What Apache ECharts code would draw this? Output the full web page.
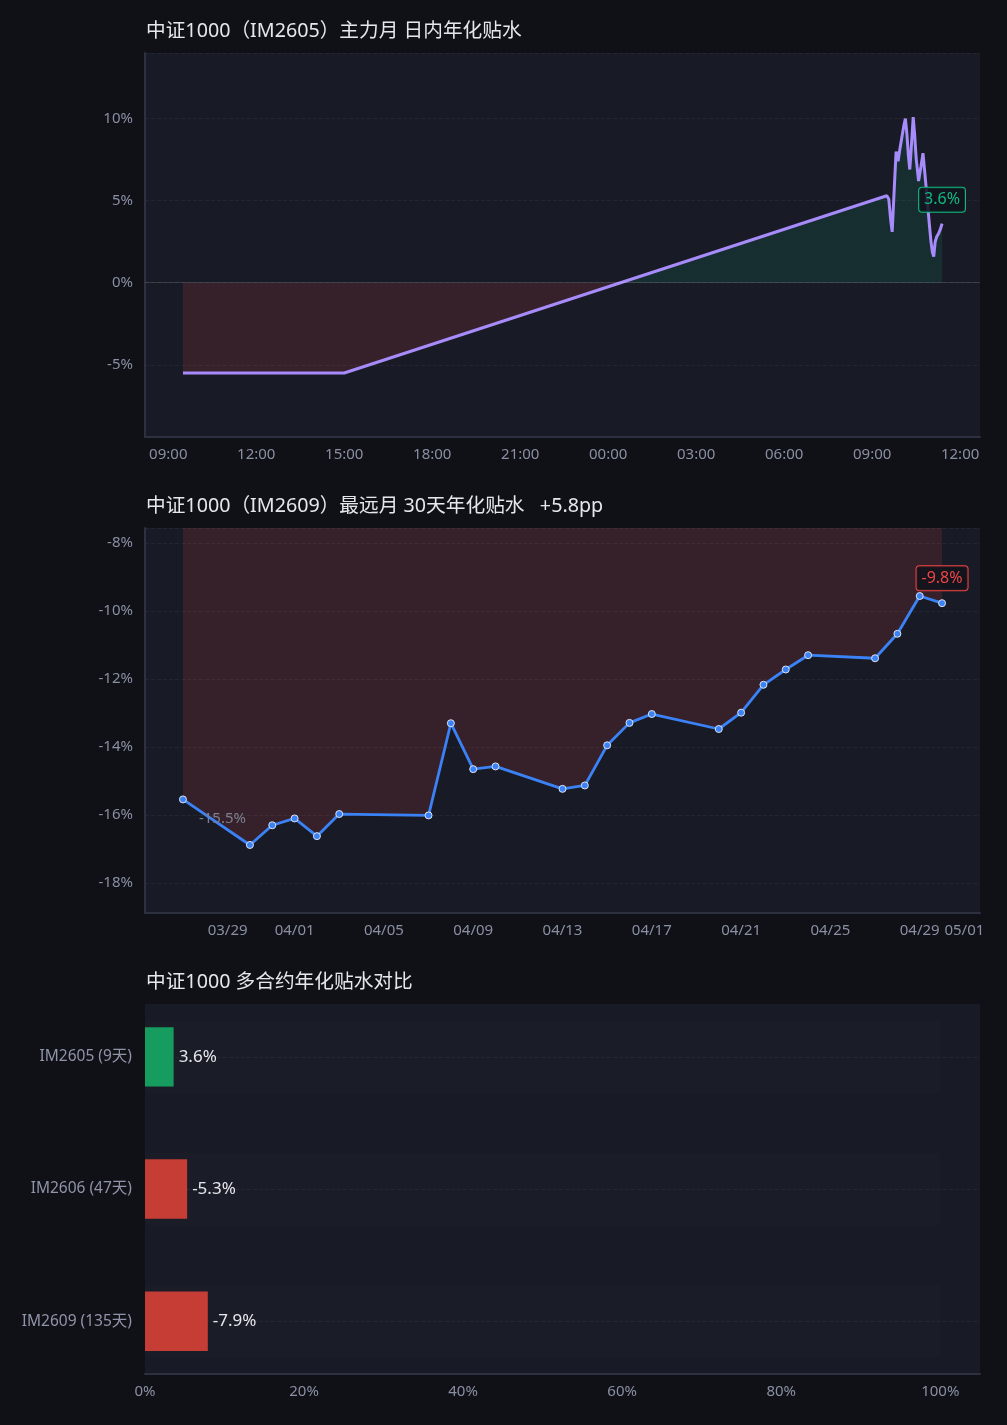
<!DOCTYPE html>
<html>
<head>
<meta charset="utf-8">
<script src="https://cdn.jsdelivr.net/npm/echarts@6/dist/echarts.min.js"></script>
<style>
html,body{margin:0;padding:0;background:#0f1117;}
#c{width:1007px;height:1425px;}
</style>
</head>
<body>
<div id="c"></div>
<script>
// ---------- Chart 1: IM2605 intraday annualized basis ----------
const intradayTimes = [
  '2026-04-29 09:30','2026-04-29 15:00',
  '2026-04-30 09:30','2026-04-30 09:34','2026-04-30 09:38','2026-04-30 09:41','2026-04-30 09:45',
  '2026-04-30 09:49','2026-04-30 09:53','2026-04-30 09:57','2026-04-30 10:01','2026-04-30 10:05',
  '2026-04-30 10:08','2026-04-30 10:11','2026-04-30 10:14','2026-04-30 10:17','2026-04-30 10:20',
  '2026-04-30 10:24','2026-04-30 10:27','2026-04-30 10:30','2026-04-30 10:35','2026-04-30 10:40',
  '2026-04-30 10:44','2026-04-30 10:48','2026-04-30 10:52','2026-04-30 10:56','2026-04-30 11:00',
  '2026-04-30 11:03','2026-04-30 11:06','2026-04-30 11:09','2026-04-30 11:12','2026-04-30 11:16',
  '2026-04-30 11:20','2026-04-30 11:23'
];
const intradayValues = [
  -5.5, -5.5,
  5.3, 5.1, 3.8, 3.1, 5.6,
  8.0, 7.4, 8.2, 8.9, 9.6,
  10.0, 9.1, 7.8, 6.9, 8.2,
  10.1, 9.0, 7.6, 6.2, 7.1,
  7.9, 6.6, 5.3, 3.9, 2.6,
  1.9, 1.6, 2.5, 2.8, 3.0,
  3.3, 3.6
];
const intradayTicks = [
  '2026-04-29 09:00','2026-04-29 12:00','2026-04-29 15:00','2026-04-29 18:00','2026-04-29 21:00',
  '2026-04-30 00:00','2026-04-30 03:00','2026-04-30 06:00','2026-04-30 09:00','2026-04-30 12:00'
];

// ---------- Chart 2: IM2609 30-day annualized basis ----------
const farDates = [
  '2026-03-27','2026-03-30','2026-03-31','2026-04-01','2026-04-02','2026-04-03',
  '2026-04-07','2026-04-08','2026-04-09','2026-04-10','2026-04-13','2026-04-14',
  '2026-04-15','2026-04-16','2026-04-17','2026-04-20','2026-04-21','2026-04-22',
  '2026-04-23','2026-04-24','2026-04-27','2026-04-28','2026-04-29','2026-04-30'
];
const farValues = [
  -15.54, -16.88, -16.30, -16.10, -16.62, -15.97,
  -16.01, -13.30, -14.65, -14.57, -15.23, -15.13,
  -13.95, -13.29, -13.03, -13.47, -12.99, -12.17,
  -11.72, -11.30, -11.39, -10.67, -9.56, -9.77
];
const farTicks = [
  '2026-03-29','2026-04-01','2026-04-05','2026-04-09','2026-04-13',
  '2026-04-17','2026-04-21','2026-04-25','2026-04-29','2026-05-01'
];

// ---------- Chart 3: contracts comparison ----------
const contracts = ['IM2605 (9天)', 'IM2606 (47天)', 'IM2609 (135天)'];
const contractValues = [3.6, -5.3, -7.9];
const pctTicks = [0, 20, 40, 60, 80, 100];
const trackValue = 100;

// ---------- helpers ----------
const FONT = '"Noto Sans", "Noto Sans CJK SC", sans-serif';
const BG = '#0f1117';
const GRID_BG = '#181b26';
const AXIS_LINE = '#2c3040';
const LABEL = '#8a8fa3';
const SPLIT = 'rgba(255,255,255,0.05)';
const RED = '#ef4444';
const GREEN = '#10b981';
const pad2 = n => (n < 10 ? '0' : '') + n;
const ts = s => new Date(s.length === 10 ? s + 'T00:00' : s.replace(' ', 'T')).getTime();
const xPadMin = v => v.min - 0.05 * (v.max - v.min);
const xPadMax = v => v.max + 0.05 * (v.max - v.min);
const yPad = v => Math.max((v.max - v.min) * 0.25, 2);
const yPadMin = v => v.min - yPad(v);
const yPadMax = v => v.max + yPad(v);

const intradayData = intradayTimes.map((t, i) => {
  const item = { value: [ts(t), intradayValues[i]] };
  if (i === intradayTimes.length - 1) {
    item.label = {
      show: true, position: 'top', distance: 12,
      formatter: intradayValues[i].toFixed(1) + '%',
      color: GREEN, fontSize: 16, fontFamily: FONT,
      borderColor: GREEN, borderWidth: 1, borderRadius: 3,
      padding: [4, 5], backgroundColor: 'rgba(17,19,27,0.85)'
    };
  }
  return item;
});

const farData = farDates.map((d, i) => {
  const item = { value: [ts(d), farValues[i]] };
  if (i === 0) {
    item.label = {
      show: true, position: 'right', offset: [7, 19],
      formatter: farValues[i].toFixed(1) + '%',
      color: '#7c8093', fontSize: 15, fontFamily: FONT
    };
  }
  if (i === farDates.length - 1) {
    item.label = {
      show: true, position: 'top', distance: 9,
      formatter: farValues[i].toFixed(1) + '%',
      color: RED, fontSize: 16, fontFamily: FONT,
      borderColor: RED, borderWidth: 1, borderRadius: 3,
      padding: [4, 5], backgroundColor: 'rgba(17,19,27,0.85)'
    };
  }
  return item;
});

const farDiff = farValues[farValues.length - 1] - farValues[0];
const farTitle = '中证1000（IM2609）最远月 30天年化贴水   ' + (farDiff >= 0 ? '+' : '') + farDiff.toFixed(1) + 'pp';

// zero split of intraday area fill
const iMax = Math.max(0, ...intradayValues), iMin = Math.min(0, ...intradayValues);
const zeroOff = iMax / (iMax - iMin);
const intradayArea = new echarts.graphic.LinearGradient(0, 0, 0, 1, [
  { offset: 0, color: 'rgba(16,185,129,0.12)' },
  { offset: zeroOff, color: 'rgba(16,185,129,0.12)' },
  { offset: zeroOff, color: 'rgba(239,68,68,0.14)' },
  { offset: 1, color: 'rgba(239,68,68,0.14)' }
]);

const hhmm = v => { const d = new Date(v); return pad2(d.getHours()) + ':' + pad2(d.getMinutes()); };
const mmdd = v => { const d = new Date(v); return pad2(d.getMonth() + 1) + '/' + pad2(d.getDate()); };

const axisLabelBase = { color: LABEL, fontSize: 15, fontFamily: FONT };
const gridBase = { left: 145, right: 27, show: true, backgroundColor: GRID_BG, borderWidth: 0 };
const titleStyle = { color: '#e5e7eb', fontSize: 19.7, fontWeight: 'normal', fontFamily: FONT };

const chart = echarts.init(document.getElementById('c'), null, { renderer: 'canvas' });
chart.setOption({
  backgroundColor: BG,
  animation: false,
  textStyle: { fontFamily: FONT },
  title: [
    { text: '中证1000（IM2605）主力月 日内年化贴水', left: 146, top: 22, padding: 0, textStyle: titleStyle },
    { text: farTitle, left: 146, top: 497, padding: 0, textStyle: titleStyle },
    { text: '中证1000 多合约年化贴水对比', left: 146, top: 973, padding: 0, textStyle: titleStyle }
  ],
  grid: [
    Object.assign({ top: 53, height: 384 }, gridBase),
    Object.assign({ top: 528, height: 385 }, gridBase),
    Object.assign({ top: 1004, height: 370 }, gridBase)
  ],
  xAxis: [
    {
      gridIndex: 0, type: 'value', min: xPadMin, max: xPadMax, scale: true,
      axisLine: { show: true, onZero: false, lineStyle: { color: AXIS_LINE, width: 2 } },
      axisTick: { show: false, customValues: intradayTicks.map(ts) },
      axisLabel: Object.assign({ customValues: intradayTicks.map(ts), formatter: hhmm, margin: 10 }, axisLabelBase),
      splitLine: { show: false }
    },
    {
      gridIndex: 1, type: 'value', min: xPadMin, max: xPadMax, scale: true,
      axisLine: { show: true, onZero: false, lineStyle: { color: AXIS_LINE, width: 2 } },
      axisTick: { show: false, customValues: farTicks.map(ts) },
      axisLabel: Object.assign({ customValues: farTicks.map(ts), formatter: mmdd, margin: 10 }, axisLabelBase),
      splitLine: { show: false }
    },
    {
      gridIndex: 2, type: 'value', min: 0, max: trackValue * 1.05,
      axisLine: { show: true, onZero: false, lineStyle: { color: AXIS_LINE, width: 2 } },
      axisTick: { show: false, customValues: pctTicks },
      axisLabel: Object.assign({ customValues: pctTicks, formatter: v => v + '%', margin: 10 }, axisLabelBase),
      splitLine: { show: false }
    }
  ],
  yAxis: [
    {
      gridIndex: 0, type: 'value', min: yPadMin, max: yPadMax,
      axisLine: { show: true, onZero: false, lineStyle: { color: AXIS_LINE, width: 2 } },
      axisTick: { show: false },
      axisLabel: Object.assign({ formatter: v => v + '%', showMinLabel: false, showMaxLabel: false, margin: 12 }, axisLabelBase),
      splitLine: { show: true, lineStyle: { color: SPLIT, type: 'dashed' } }
    },
    {
      gridIndex: 1, type: 'value', min: yPadMin, max: yPadMax,
      axisLine: { show: true, onZero: false, lineStyle: { color: AXIS_LINE, width: 2 } },
      axisTick: { show: false },
      axisLabel: Object.assign({ formatter: v => v + '%', showMinLabel: false, showMaxLabel: false, margin: 12 }, axisLabelBase),
      splitLine: { show: true, lineStyle: { color: SPLIT, type: 'dashed' } }
    },
    {
      gridIndex: 2, type: 'value', inverse: true, min: -0.4, max: contracts.length - 1 + 0.4,
      axisLine: { show: false, onZero: false },
      axisTick: { show: false, customValues: contracts.map((c, i) => i) },
      axisLabel: Object.assign({ customValues: contracts.map((c, i) => i), formatter: v => contracts[Math.round(v)] || '', margin: 13 }, axisLabelBase, { color: '#9094a8', fontSize: 15.5 }),
      splitLine: { show: true, lineStyle: { color: SPLIT, type: 'dashed' } }
    }
  ],
  series: [
    {
      type: 'line', xAxisIndex: 0, yAxisIndex: 0,
      data: intradayData,
      symbol: 'circle', symbolSize: 0, showSymbol: true,
      lineStyle: { color: '#a78bfa', width: 3 },
      itemStyle: { color: '#a78bfa' },
      areaStyle: { color: intradayArea, opacity: 1 },
      markLine: {
        silent: true, symbol: 'none', label: { show: false },
        lineStyle: { color: 'rgba(255,255,255,0.13)', type: 'solid', width: 1 },
        data: [{ yAxis: 0 }]
      },
      z: 3
    },
    {
      type: 'line', xAxisIndex: 1, yAxisIndex: 1,
      data: farData,
      symbol: 'circle', symbolSize: 7, showSymbol: true,
      lineStyle: { color: '#3b82f6', width: 2.8 },
      itemStyle: { color: '#3b82f6', borderColor: '#dde3f0', borderWidth: 1 },
      areaStyle: { color: 'rgba(239,68,68,0.14)', opacity: 1 },
      z: 3
    },
    {
      type: 'custom', xAxisIndex: 2, yAxisIndex: 2, silent: true,
      encode: { x: 0, y: 1 },
      data: contracts.map((c, i) => [trackValue, i]),
      renderItem: (params, api) => {
        const i = api.value(1);
        const a = api.coord([0, i]);
        const b = api.coord([api.value(0), i]);
        const h = api.size([0, 0.55])[1];
        return { type: 'rect', shape: { x: a[0], y: a[1] - h / 2, width: b[0] - a[0], height: h },
                 style: { fill: 'rgba(255,255,255,0.012)' } };
      },
      z: 1
    },
    {
      type: 'custom', xAxisIndex: 2, yAxisIndex: 2,
      encode: { x: 0, y: 1 },
      data: contractValues.map((v, i) => [Math.abs(v), i, v]),
      renderItem: (params, api) => {
        const i = api.value(1);
        const sv = api.value(2);
        const a = api.coord([0, i]);
        const b = api.coord([api.value(0), i]);
        const h = api.size([0, 0.45])[1];
        return {
          type: 'rect',
          shape: { x: a[0], y: a[1] - h / 2, width: b[0] - a[0], height: h },
          style: { fill: sv >= 0 ? '#159c5e' : '#c53d35' },
          textContent: { style: { text: sv.toFixed(1) + '%', fill: '#e5e7eb', fontSize: 17, fontFamily: FONT } },
          textConfig: { position: 'right', distance: 5 }
        };
      },
      z: 2
    }
  ]
});
</script>
</body>
</html>
